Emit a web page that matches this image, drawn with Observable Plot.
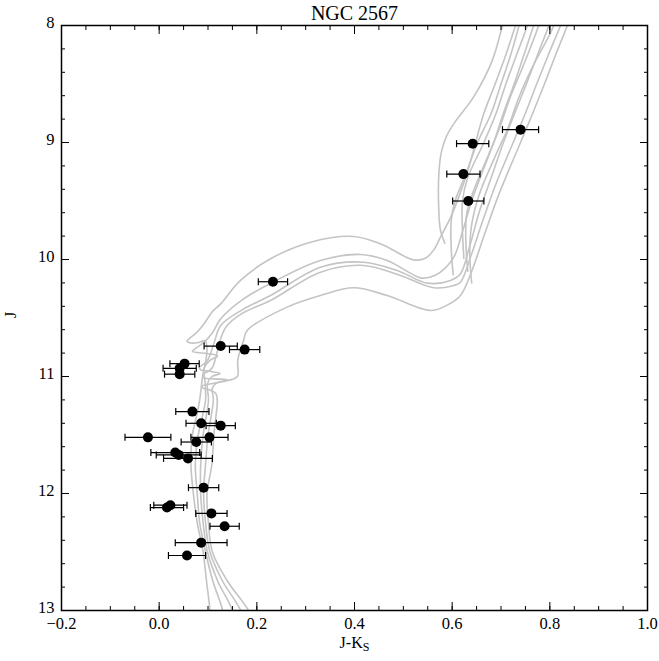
<!DOCTYPE html>
<html><head><meta charset="utf-8">
<script src="https://cdn.jsdelivr.net/npm/d3@7"></script>
<script src="https://cdn.jsdelivr.net/npm/@observablehq/plot@0.6"></script>
<style>body{margin:0;background:#fff} svg{display:block}</style>
</head><body><div id="chart"></div>
<script>
// Observed stars: J-Ks colour, J magnitude, colour error
const starColor = [0.740,0.642,0.623,0.633,0.233,0.126,0.175,0.052,0.042,0.042,0.068,0.086,0.126,-0.023,0.103,0.076,0.033,0.040,0.059,0.091,0.016,0.023,0.107,0.134,0.086,0.057];
const starJ     = [8.89,9.01,9.27,9.50,10.19,10.74,10.77,10.89,10.93,10.98,11.30,11.40,11.42,11.52,11.52,11.56,11.65,11.67,11.70,11.95,12.12,12.10,12.17,12.28,12.42,12.53];
const starErr   = [0.037,0.033,0.034,0.032,0.030,0.034,0.031,0.030,0.034,0.031,0.034,0.031,0.030,0.047,0.038,0.031,0.050,0.046,0.050,0.031,0.034,0.034,0.032,0.030,0.053,0.038];

// Isochrones [J-Ks, J] : main sequence -> turnoff -> subgiant -> red giant branch
const isoA = [[0.108,13.3],[0.104,13.0],[0.097,12.75],[0.090,12.5],[0.078,12.25],[0.070,12.0],[0.065,11.75],[0.068,11.5],[0.076,11.35],[0.083,11.2],[0.089,11.0],[0.096,10.85],[0.098,10.76],[0.094,10.695],[0.078,10.712],[0.062,10.712],[0.057,10.698],[0.062,10.675],[0.078,10.62],[0.092,10.55],[0.108,10.45],[0.126,10.379],[0.1665,10.179],[0.228,9.994],[0.310,9.852],[0.398,9.803],[0.453,9.866],[0.521,10.003],[0.545,9.99],[0.562,9.92],[0.576,9.809],[0.597,9.638],[0.615,9.45],[0.635,9.2],[0.648,9.0],[0.665,8.75],[0.688,8.5],[0.71,8.25],[0.73,8.0],[0.748,7.8]];
const isoB = [[0.140,13.3],[0.130,13.0],[0.110,12.75],[0.095,12.5],[0.083,12.25],[0.078,12.0],[0.074,11.75],[0.080,11.5],[0.088,11.35],[0.095,11.2],[0.094,11.05],[0.092,10.93],[0.105,10.86],[0.12,10.825],[0.10,10.805],[0.078,10.795],[0.068,10.785],[0.074,10.762],[0.094,10.70],[0.11,10.62],[0.126,10.507],[0.17,10.345],[0.2327,10.194],[0.3303,10.009],[0.4122,9.957],[0.467,10.009],[0.5351,10.157],[0.556,10.15],[0.576,10.108],[0.6033,9.98],[0.622,9.75],[0.64,9.5],[0.662,9.25],[0.685,9.0],[0.705,8.75],[0.727,8.5],[0.747,8.25],[0.767,8.0],[0.785,7.8]];
const isoC = [[0.165,13.3],[0.150,13.0],[0.120,12.75],[0.099,12.5],[0.090,12.25],[0.085,12.0],[0.085,11.75],[0.090,11.5],[0.096,11.35],[0.101,11.2],[0.099,11.06],[0.108,11.0],[0.125,10.975],[0.104,10.955],[0.086,10.945],[0.082,10.925],[0.098,10.87],[0.112,10.72],[0.126,10.564],[0.17,10.43],[0.228,10.308],[0.3303,10.066],[0.419,10.023],[0.4874,10.094],[0.5488,10.202],[0.5966,10.179],[0.617,10.122],[0.635,9.9],[0.655,9.6],[0.68,9.3],[0.705,9.0],[0.728,8.75],[0.752,8.5],[0.775,8.25],[0.798,8.0],[0.815,7.8]];
const isoE = [[0.190,13.3],[0.167,13.0],[0.130,12.75],[0.104,12.5],[0.095,12.25],[0.091,12.0],[0.095,11.75],[0.100,11.5],[0.106,11.35],[0.111,11.2],[0.109,11.1],[0.118,11.055],[0.14,11.03],[0.115,11.02],[0.092,11.012],[0.089,10.99],[0.108,10.93],[0.117,10.82],[0.124,10.70],[0.138,10.57],[0.17,10.46],[0.228,10.35],[0.3303,10.108],[0.419,10.051],[0.4942,10.137],[0.5624,10.242],[0.6033,10.222],[0.617,10.194],[0.64,9.95],[0.66,9.7],[0.69,9.35],[0.725,9.0],[0.75,8.75],[0.773,8.5],[0.797,8.25],[0.822,8.0],[0.84,7.8]];
const isoD = [[0.215,13.3],[0.183,13.0],[0.140,12.75],[0.109,12.5],[0.101,12.25],[0.098,12.0],[0.108,11.75],[0.112,11.5],[0.116,11.35],[0.119,11.21],[0.116,11.145],[0.104,11.115],[0.09,11.10],[0.088,11.08],[0.11,11.06],[0.14,11.035],[0.16,11.0],[0.161,10.86],[0.173,10.69],[0.1802,10.607],[0.2621,10.407],[0.3303,10.308],[0.3985,10.242],[0.467,10.308],[0.5556,10.436],[0.59,10.39],[0.617,10.308],[0.64,10.1],[0.665,9.8],[0.695,9.45],[0.74,9.0],[0.765,8.75],[0.789,8.5],[0.812,8.25],[0.836,8.0],[0.855,7.8]];

// Core-helium-burning clump + asymptotic giant branch of each isochrone
const clumpA = [[0.585,9.86],[0.576,9.75],[0.572,9.5],[0.573,9.25],[0.578,9.08],[0.588,8.95],[0.605,8.83],[0.644,8.61],[0.682,8.30],[0.703,8.0],[0.716,7.8]];
const clumpB = [[0.602,10.13],[0.598,9.9],[0.598,9.67],[0.606,9.5],[0.625,9.3],[0.652,9.0],[0.68,8.75],[0.70,8.5],[0.72,8.25],[0.737,8.0],[0.75,7.8]];
const clumpC = [[0.624,9.99],[0.621,9.75],[0.621,9.5],[0.632,9.3],[0.665,9.0],[0.69,8.75],[0.71,8.5],[0.732,8.25],[0.754,8.0],[0.768,7.8]];
const clumpE = [[0.632,10.1],[0.628,9.85],[0.63,9.6],[0.645,9.4],[0.675,9.1],[0.695,8.9],[0.72,8.6],[0.745,8.35],[0.777,8.0],[0.79,7.8]];
const clumpD = [[0.64,10.2],[0.636,9.95],[0.64,9.7],[0.655,9.45],[0.69,9.1],[0.712,8.9],[0.738,8.6],[0.765,8.35],[0.808,8.0],[0.82,7.8]];

const xTicks = [-0.2, 0.0, 0.2, 0.4, 0.6, 0.8, 1.0];
const yTicks = [8, 9, 10, 11, 12, 13];
const xMinor = d3.range(-0.2, 1.0001, 0.05);
const yMinor = d3.range(8, 13.0001, 0.2);

const titleText = "NGC 2567";
const xLabel = "J-KS";
const yLabel = "J";

const stars = starColor.map((c, i) => ({c, J: starJ[i], e: starErr[i]}));
const tracks = [];
[["A", isoA], ["B", isoB], ["C", isoC], ["E", isoE], ["D", isoD],
 ["cA", clumpA], ["cB", clumpB], ["cC", clumpC], ["cE", clumpE], ["cD", clumpD]]
  .forEach(([id, arr]) => arr.forEach(([c, J]) => tracks.push({id, c, J})));

const capSymbol = {draw(ctx, size) { const h = Math.sqrt(size / Math.PI); ctx.moveTo(0, -h); ctx.lineTo(0, h); }};
const font = "'Liberation Serif', 'Times New Roman', serif";

const chart = Plot.plot({
  width: 659, height: 661,
  marginLeft: 61, marginRight: 12, marginTop: 25, marginBottom: 51,
  style: {fontFamily: font, fontSize: "16px", background: "white", color: "black", overflow: "visible"},
  x: {domain: [-0.2, 1.0]},
  y: {domain: [8, 13], reverse: true},
  marks: [
    Plot.line(tracks, {x: "c", y: "J", z: "id", stroke: "#c4c4c4", strokeWidth: 1.6, curve: "catmull-rom", clip: true}),
    Plot.link(stars, {x1: d => d.c - d.e, x2: d => d.c + d.e, y1: "J", y2: "J", stroke: "black", strokeWidth: 1.2}),
    Plot.dot(stars, {x: d => d.c - d.e, y: "J", symbol: capSymbol, r: 3.5, stroke: "black", strokeWidth: 1.2}),
    Plot.dot(stars, {x: d => d.c + d.e, y: "J", symbol: capSymbol, r: 3.5, stroke: "black", strokeWidth: 1.2}),
    Plot.dot(stars, {x: "c", y: "J", r: 5, fill: "black", stroke: "none"}),
    Plot.frame({stroke: "black", strokeWidth: 1.5}),
    // tick labels
    Plot.axisX({ticks: xTicks, anchor: "bottom", tickSize: 0, tickPadding: 7, tickFormat: d3.format(".1f"), label: null, fontSize: 16.5}),
    Plot.axisY({ticks: yTicks, anchor: "left", tickSize: 0, tickPadding: 7, dy: -3, tickFormat: d3.format("d"), label: null, fontSize: 16.5}),
    // inward ticks on all sides
    Plot.axisX({ticks: xTicks, anchor: "bottom", tickSize: -8, tickFormat: () => "", label: null}),
    Plot.axisX({ticks: xTicks, anchor: "top", tickSize: -8, tickFormat: () => "", label: null}),
    Plot.axisX({ticks: xMinor, anchor: "bottom", tickSize: -4, tickFormat: () => "", label: null}),
    Plot.axisX({ticks: xMinor, anchor: "top", tickSize: -4, tickFormat: () => "", label: null}),
    Plot.axisY({ticks: yTicks, anchor: "left", tickSize: -8, tickFormat: () => "", label: null}),
    Plot.axisY({ticks: yTicks, anchor: "right", tickSize: -8, tickFormat: () => "", label: null}),
    Plot.axisY({ticks: yMinor, anchor: "left", tickSize: -4, tickFormat: () => "", label: null}),
    Plot.axisY({ticks: yMinor, anchor: "right", tickSize: -4, tickFormat: () => "", label: null}),
    // title and axis labels
    Plot.text([titleText], {text: d => d, frameAnchor: "top", dy: -12, fontSize: 20, lineAnchor: "middle"}),
    Plot.text([xLabel], {text: d => d, frameAnchor: "bottom", dy: 32, fontSize: 16, lineAnchor: "middle"}),
    Plot.text([yLabel], {text: d => d, frameAnchor: "left", dx: -51, rotate: -90, fontSize: 16, lineAnchor: "middle"})
  ]
});

for (const t of chart.querySelectorAll("text")) {
  if (t.textContent === xLabel) {
    t.textContent = "J-K";
    const ts = document.createElementNS("http://www.w3.org/2000/svg", "tspan");
    ts.setAttribute("font-size", "12");
    ts.setAttribute("dy", "3");
    ts.textContent = "S";
    t.appendChild(ts);
  }
}
document.getElementById("chart").appendChild(chart);
</script>
</body></html>
